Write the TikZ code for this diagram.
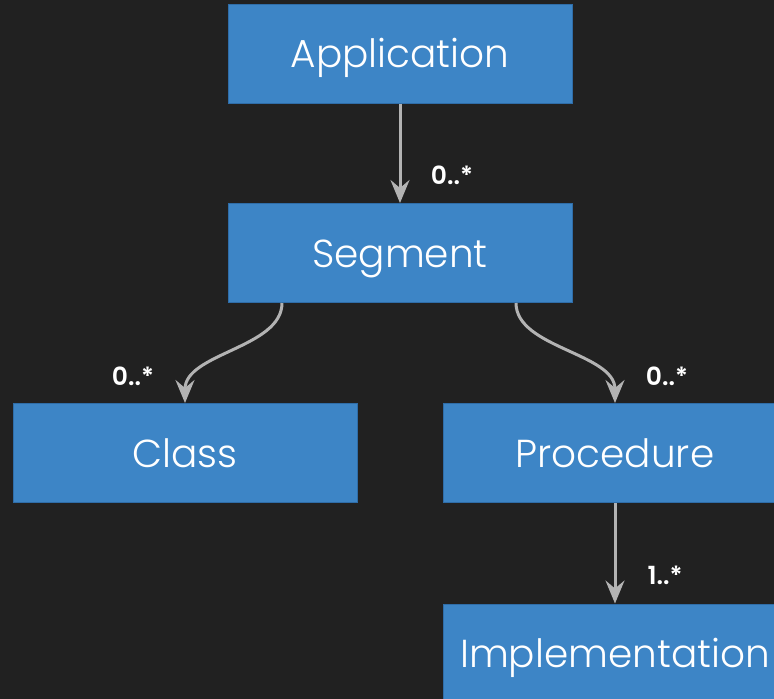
\documentclass[tikz,border=0pt]{standalone}
\usepackage{fontspec}
\setmainfont{Poppins}[UprightFont=* Light, BoldFont=* SemiBold]
\usetikzlibrary{arrows.meta}
\definecolor{bg}{HTML}{212121}
\definecolor{boxblue}{HTML}{3D85C6}
\definecolor{boxedge}{HTML}{2F6DA8}
\definecolor{wire}{HTML}{B3B3B3}
% entity caption with its baseline a fixed distance below the box centre
\newcommand{\entitytext}[1]{\raisebox{-14pt}[0pt][0pt]{#1}}
\begin{document}
\begin{tikzpicture}[x=1pt,y=-1pt,
  entity/.style={rectangle, fill=boxblue, draw=boxedge, line width=1pt,
    minimum width=344pt, minimum height=99pt, inner sep=0pt,
    text=white, font=\fontsize{39}{46}\selectfont},
  mult/.style={text=white, inner sep=0pt, font=\fontsize{25}{30}\selectfont\bfseries},
  link/.style={draw=wire, line width=3pt,
    -{Stealth[length=23pt,width=19pt,inset=8pt]}}]
  % canvas
  \fill[bg] (0,0) rectangle (774,699);
  \useasboundingbox (0,0) rectangle (774,699);
  \clip (0,0) rectangle (774,699);

  % entities
  \node[entity] (app)  at (400,53.5)  {\entitytext{Application}};
  \node[entity] (seg)  at (400,253)   {\entitytext{Segment}};
  \node[entity] (cls)  at (185,453)   {\entitytext{Class}};
  \node[entity] (proc) at (615,453)   {\entitytext{Procedure}};
  \node[entity] (impl) at (615,653.5) {\entitytext{Implementation}};

  % associations
  \draw[link] (app.south) -- (seg.north);
  \draw[link] ([xshift=-118pt]seg.south)
    .. controls +(0,45) and +(0,-50) .. (cls.north);
  \draw[link] ([xshift=116pt]seg.south)
    .. controls +(0,45) and +(0,-50) .. (proc.north);
  \draw[link] (proc.south) -- (impl.north);

  % multiplicities
  \node[mult] (m1) at (452,175) {0..*};
  \node[mult] (m2) at (133,376) {0..*};
  \node[mult] (m3) at (667,376) {0..*};
  \node[mult] (m4) at (665,575) {1..*};
\end{tikzpicture}
\end{document}
